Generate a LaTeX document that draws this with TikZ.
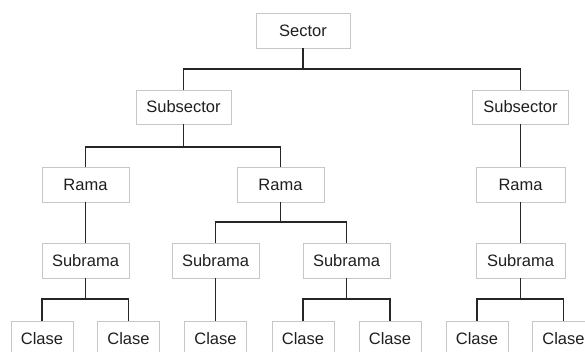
\documentclass[tikz,border=0pt]{standalone}
\usepackage{fontspec}
\setmainfont{Liberation Sans}
\begin{document}
\begin{tikzpicture}[x=1pt,y=-1pt,
  box/.style={draw=black!22,line width=0.9pt,fill=white,text=black!88,inner sep=0pt,
    font=\fontsize{16.5}{19}\selectfont,minimum height=35pt},
  link/.style={draw=black!85,line width=1.3pt}]
\clip (0,0) rectangle (585,351);
\fill[white] (0,0) rectangle (585,351);
% nodes
\node[box,minimum width=94pt] (sec) at (303,30.5) {Sector};
\node[box,minimum width=95pt,minimum height=34pt] (subL) at (183.5,107) {Subsector};
\node[box,minimum width=96pt,minimum height=34pt] (subR) at (520.5,107) {Subsector};
\node[box,minimum width=87pt] (ramL) at (85.5,184.5) {Rama};
\node[box,minimum width=87pt] (ramM) at (280.5,184.5) {Rama};
\node[box,minimum width=89pt] (ramR) at (520.5,184.5) {Rama};
\node[box,minimum width=87pt] (srL) at (85.5,260.5) {Subrama};
\node[box,minimum width=87pt] (srML) at (215.5,260.5) {Subrama};
\node[box,minimum width=87pt] (srMR) at (346.5,260.5) {Subrama};
\node[box,minimum width=89pt] (srR) at (520.5,260.5) {Subrama};
\node[box,minimum width=62pt] (c1) at (42,338.5) {Clase};
\node[box,minimum width=62pt] (c2) at (128.5,338.5) {Clase};
\node[box,minimum width=62pt] (c3) at (215.5,338.5) {Clase};
\node[box,minimum width=62pt] (c4) at (303,338.5) {Clase};
\node[box,minimum width=62pt] (c5) at (390,338.5) {Clase};
\node[box,minimum width=62pt] (c6) at (477,338.5) {Clase};
\node[box,minimum width=62pt] (c7) at (563.5,338.5) {Clase};
% bus levels
\coordinate (b1) at (0,69);
\coordinate (b2) at (0,147);
\coordinate (b3) at (0,222);
\coordinate (b4) at (0,299);
% connectors
\draw[link] (sec.south) -- (sec.south |- b1) -| (subL.north);
\draw[link] (sec.south |- b1) -| (subR.north);
\draw[link] (subL.south) -- (subL.south |- b2) -| (ramL.north);
\draw[link] (subL.south |- b2) -| (ramM.north);
\draw[link] (subR.south) -- (ramR.north);
\draw[link] (ramL.south) -- (srL.north);
\draw[link] (ramM.south) -- (ramM.south |- b3) -| (srML.north);
\draw[link] (ramM.south |- b3) -| (srMR.north);
\draw[link] (ramR.south) -- (srR.north);
\draw[link] (srL.south) -- (srL.south |- b4) -| (c1.north);
\draw[link] (srL.south |- b4) -| (c2.north);
\draw[link] (srML.south) -- (c3.north);
\draw[link] (srMR.south) -- (srMR.south |- b4) -| (c4.north);
\draw[link] (srMR.south |- b4) -| (c5.north);
\draw[link] (srR.south) -- (srR.south |- b4) -| (c6.north);
\draw[link] (srR.south |- b4) -| (c7.north);
\end{tikzpicture}
\end{document}
